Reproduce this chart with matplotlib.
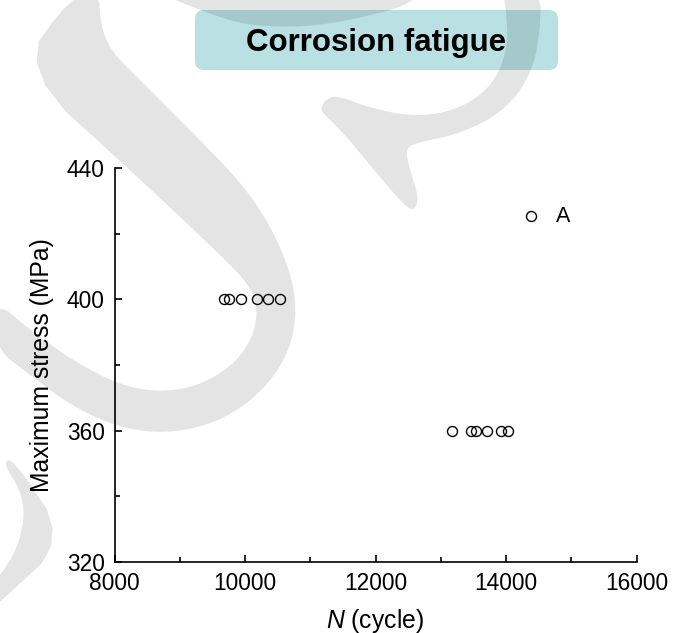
import numpy as np
import matplotlib
matplotlib.use("Agg")
import matplotlib.pyplot as plt
from matplotlib.patches import Polygon, FancyBboxPatch

plt.rcParams["font.family"] = ["Liberation Sans", "DejaVu Sans"]
plt.rcParams["mathtext.fontset"] = "custom"
plt.rcParams["mathtext.it"] = "Liberation Sans:italic"
plt.rcParams["mathtext.rm"] = "Liberation Sans"

# data
cycles_400 = [9675, 9760, 9935, 10180, 10355, 10530]
stress_400 = [400, 400, 400, 400, 400, 400]
cycles_360 = [13180, 13470, 13540, 13705, 13930, 14035]
stress_360 = [360, 360, 360, 360, 360, 360]
cycles_A = [14380]
stress_A = [425.5]

x_ticks = [8000, 10000, 12000, 14000, 16000]
y_ticks = [320, 360, 400, 440]

# light watermark outlines, in image pixels (y down)
wm_j = [(99, -5), (100, 15), (104, 36), (115, 55), (130, 70), (185, 125), (241, 182),
        (270, 225), (290, 270), (297, 310), (290, 350), (268, 385), (235, 413), (195, 429),
        (155, 433), (115, 426), (70, 405), (30, 375), (-5, 348),
        (-5, 300), (30, 330), (75, 362), (120, 385), (158, 392), (195, 387), (230, 368),
        (252, 340), (258, 310), (250, 285), (215, 250), (142, 181), (19, 69), (72, -5)]
wm_chevron = [(3, 463), (13, 458), (67, 540), (0, 602), (-5, 606), (-5, 578), (0, 576),
              (17, 549), (25, 516), (20, 489)]
wm_arc = [(160, -8), (175, 0), (205, 12), (235, 22), (260, 26), (300, 27), (340, 22),
          (375, 14), (395, 9), (410, 2), (425, -8)]
wm_ring = [(541, -8), (540, 30), (534, 65), (518, 95), (493, 118), (455, 135), (420, 142),
           (405, 148), (410, 170), (417, 192), (418, 203), (412, 212), (395, 195), (370, 165),
           (345, 135), (328, 118), (320, 110), (325, 100), (336, 95), (370, 108), (410, 116),
           (445, 113), (475, 100), (497, 78), (508, 45), (506, 10), (503, -8)]


def chaikin(pts, n=2):
    p = np.asarray(pts, float)
    for _ in range(n):
        q = np.roll(p, -1, axis=0)
        new = np.empty((2 * len(p), 2))
        new[0::2] = 0.75 * p + 0.25 * q
        new[1::2] = 0.25 * p + 0.75 * q
        p = new
    return p


fig = plt.figure(figsize=(6.73, 6.33), dpi=100)
fig.patch.set_facecolor("white")

ax = fig.add_axes([114.5 / 673, 71 / 633, 522 / 673, 394 / 633])
ax.plot(cycles_400 + cycles_360 + cycles_A, stress_400 + stress_360 + stress_A, "o",
        mfc="none", mec="black", ms=7.2, mew=1.0, ls="none", clip_on=False)
ax.annotate("A", (cycles_A[0], stress_A[0]), xytext=(23.5, -4.3), textcoords="offset points",
            ha="center", va="baseline", fontsize=15.5)

ax.set_xlim(8000, 16000)
ax.set_ylim(320, 440)
ax.set_xticks(x_ticks)
ax.set_xticks([9000, 11000, 13000, 15000], minor=True)
ax.set_yticks(y_ticks)
ax.set_yticks([340, 380, 420], minor=True)
for s in ["top", "right"]:
    ax.spines[s].set_visible(False)
for s in ["left", "bottom"]:
    ax.spines[s].set_linewidth(1.2)
ax.tick_params(which="both", direction="in", width=1.2, labelsize=16.4)
ax.tick_params(which="major", length=5)
ax.tick_params(which="minor", length=3.5)
ax.tick_params(axis="x", pad=7)
ax.tick_params(axis="y", pad=7)
ax.set_xlabel(r"$\it{N}$ (cycle)", fontsize=17.8, labelpad=8.5)
ax.set_ylabel("Maximum stress (MPa)", fontsize=17.8, labelpad=9)

# overlay in pixel coordinates for the title box and the watermark
ov = fig.add_axes([0, 0, 1, 1], zorder=10)
ov.set_xlim(0, 673)
ov.set_ylim(633, 0)
ov.axis("off")
ov.patch.set_alpha(0)

ov.add_patch(FancyBboxPatch((195, 10), 363, 60, boxstyle="round,pad=0,rounding_size=9",
                            fc="#b9e0e3", ec="none", zorder=1))
ov.text(376.5, 51.5, "Corrosion fatigue", ha="center", va="baseline", fontsize=22.5,
        fontweight="bold", zorder=2)

for shape in [wm_j, wm_chevron, wm_arc, wm_ring]:
    ov.add_patch(Polygon(chaikin(shape), closed=True, fc="black", ec="none", alpha=0.105, zorder=5))

fig.savefig("out.png", dpi=100)
